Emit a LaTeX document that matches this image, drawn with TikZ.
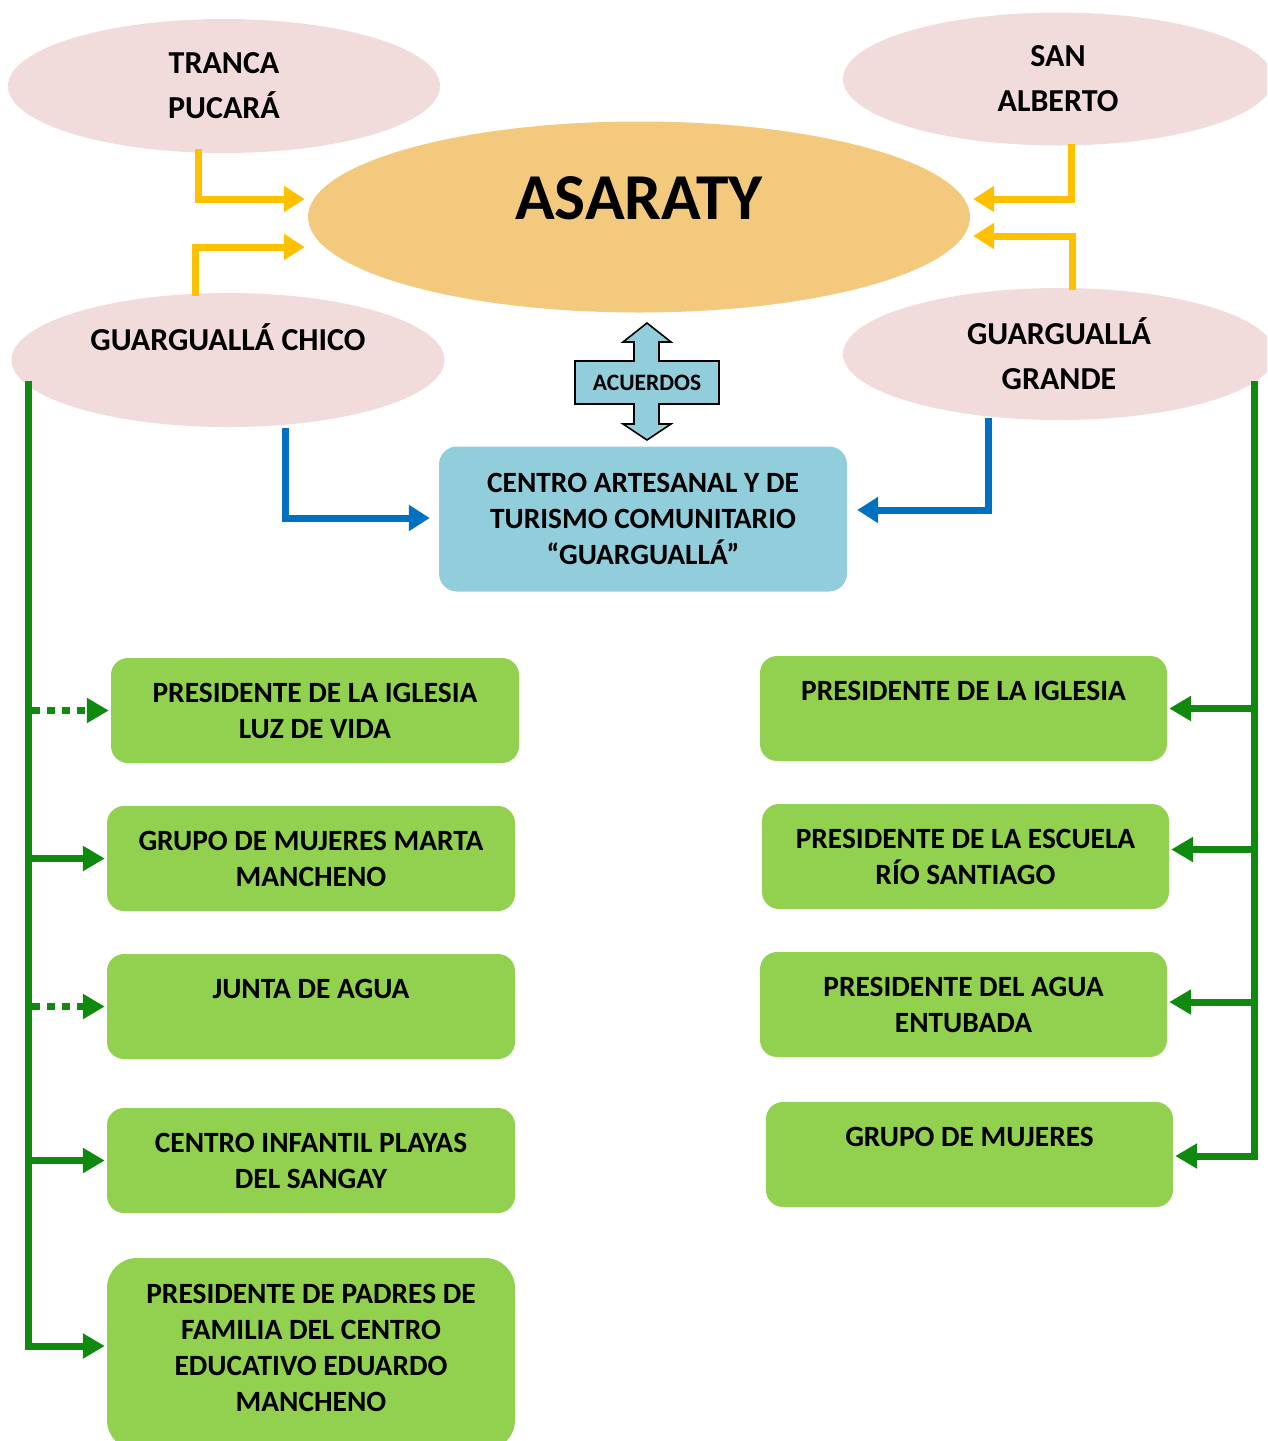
\documentclass[tikz,border=0pt]{standalone}
\usepackage{fontspec}
\setmainfont{Carlito}
\usetikzlibrary{shapes.geometric,arrows.meta}
\definecolor{pinkfill}{HTML}{F2DCDB}
\definecolor{orangefill}{HTML}{F3C97D}
\definecolor{bluefill}{HTML}{92CDDC}
\definecolor{boxgreen}{HTML}{92D050}
\definecolor{linegreen}{HTML}{0F8A0F}
\definecolor{arryellow}{HTML}{FFC000}
\definecolor{arrblue}{HTML}{0070C0}
\begin{document}
\begin{tikzpicture}[x=1pt,y=-1pt,
  ell/.style={ellipse, fill=pinkfill, inner sep=0pt, minimum width=432pt, minimum height=134pt,
    font=\fontsize{32}{45}\selectfont\bfseries, align=center},
  gbox/.style={rectangle, rounded corners=17pt, fill=boxgreen, minimum width=408pt, minimum height=105pt,
    inner sep=0pt, font=\fontsize{29.4}{36}\selectfont\bfseries, align=center},
  txt/.style={font=\fontsize{29.4}{36}\selectfont\bfseries, align=center, inner sep=0pt},
  yarr/.style={draw=arryellow, line width=7pt, -{Triangle[length=21pt,width=25pt]}},
  barr/.style={draw=arrblue, line width=7pt, -{Triangle[length=21pt,width=25pt]}},
  garr/.style={draw=linegreen, line width=7pt, -{Triangle[length=22pt,width=24pt]}},
  dotarr/.style={garr, dash pattern=on 8pt off 7pt}
]
\useasboundingbox (0,0) rectangle (1267,1441);
\clip (0,0) rectangle (1267,1441);

% ellipses
\node[ell] (tranca) at (224,86) {TRANCA\\PUCARÁ};
\node[ell, minimum width=430pt, minimum height=133pt] (sanalberto) at (1058,79) {SAN\\ALBERTO};
\node[ell, minimum width=433pt] (gchico) at (228,360) {GUARGUALLÁ CHICO\\~};
\node[ell, minimum height=132pt] (ggrande) at (1059,354) {GUARGUALLÁ\\GRANDE};
\node[ellipse, fill=orangefill, inner sep=0pt, minimum width=662pt, minimum height=191pt] (asaraty) at (639,217) {};
\node[font=\fontsize{65.5}{70}\selectfont\bfseries, inner sep=0pt] (asatxt) at (639,198) {ASARATY};

% acuerdos double arrow
\filldraw[fill=bluefill, draw=black, line width=1.6pt, line join=miter]
  (647,323) -- (671,342) -- (659,342) -- (659,361) -- (719,361) -- (719,404) -- (659,404) -- (659,424)
  -- (671,424) -- (647,440) -- (623,424) -- (634,424) -- (634,404) -- (575,404) -- (575,361)
  -- (634,361) -- (634,342) -- (623,342) -- cycle;
\node[font=\fontsize{23.5}{26}\selectfont\bfseries, inner sep=0pt] (acuerdos) at (647,383) {ACUERDOS};

% centro
\node[rectangle, rounded corners=18pt, fill=bluefill, minimum width=408pt, minimum height=145pt,
  inner sep=0pt, font=\fontsize{29.4}{36}\selectfont\bfseries, align=center] (centro) at (643,519)
  {CENTRO ARTESANAL Y DE\\TURISMO COMUNITARIO\\“GUARGUALLÁ”};

% left boxes
\node[gbox] (l1) at (315,710.5) {PRESIDENTE DE LA IGLESIA\\LUZ DE VIDA};
\node[gbox] (l2) at (311,858.5) {GRUPO DE MUJERES MARTA\\MANCHENO};
\node[gbox] (l3) at (311,1006.5) {JUNTA DE AGUA\\~};
\node[gbox] (l4) at (311,1160.5) {CENTRO INFANTIL PLAYAS\\DEL SANGAY};
\node[gbox, rounded corners=30pt, minimum height=192pt] (l5) at (311,1354) {};
\node[txt] (l5t) at (311,1348) {PRESIDENTE DE PADRES DE\\FAMILIA DEL CENTRO\\EDUCATIVO EDUARDO\\MANCHENO};

% right boxes
\node[gbox, minimum width=407pt] (r1) at (963.5,708.5) {PRESIDENTE DE LA IGLESIA\\~};
\node[gbox, minimum width=407pt] (r2) at (965.5,856.5) {PRESIDENTE DE LA ESCUELA\\RÍO SANTIAGO};
\node[gbox, minimum width=407pt] (r3) at (963.5,1004.5) {PRESIDENTE DEL AGUA\\ENTUBADA};
\node[gbox, minimum width=407pt] (r4) at (969.5,1154.5) {GRUPO DE MUJERES\\~};

% yellow connectors
\draw[yarr] ([xshift=-26pt,yshift=4pt]tranca.south) |- ([xshift=-3pt,yshift=18pt]asaraty.west);
\draw[yarr] ([xshift=-33pt,yshift=-3pt]gchico.north) |- ([xshift=-3pt,yshift=-30pt]asaraty.west);
\draw[yarr] ([xshift=13pt,yshift=2pt]sanalberto.south) |- ([xshift=3pt,yshift=18pt]asaraty.east);
\draw[yarr] ([xshift=13pt,yshift=-2pt]ggrande.north) |- ([xshift=3pt,yshift=-19pt]asaraty.east);

% blue connectors
\draw[barr] ([xshift=57pt,yshift=-1pt]gchico.south) |- ([xshift=-9pt,yshift=1pt]centro.west);
\draw[barr] ([xshift=-71pt,yshift=2pt]ggrande.south) |- ([xshift=10pt,yshift=9pt]centro.east);

% left green tree
\coordinate (ltop) at ([xshift=17pt,yshift=-21pt]gchico.west);
\draw[garr] (ltop) |- ([xshift=-2pt,yshift=8pt]l5.west);
\draw[dotarr] ([xshift=3.5pt]ltop |- l1.west) -- ([xshift=-2pt]l1.west);
\draw[garr] (ltop |- l2.west) -- ([xshift=-2pt]l2.west);
\draw[dotarr] ([xshift=3.5pt]ltop |- l3.west) -- ([xshift=-2pt]l3.west);
\draw[garr] (ltop |- l4.west) -- ([xshift=-2pt]l4.west);

% right green tree
\coordinate (rtop) at ([xshift=-21pt,yshift=-27pt]ggrande.east);
\draw[garr] (rtop) |- ([xshift=2pt,yshift=-1.5pt]r4.east);
\draw[garr] (rtop |- r1.east) -- ([xshift=2pt]r1.east);
\draw[garr] ([yshift=7pt]rtop |- r2.east) -- ([xshift=2pt,yshift=7pt]r2.east);
\draw[garr] ([yshift=2.5pt]rtop |- r3.east) -- ([xshift=2pt,yshift=2.5pt]r3.east);
\end{tikzpicture}
\end{document}
